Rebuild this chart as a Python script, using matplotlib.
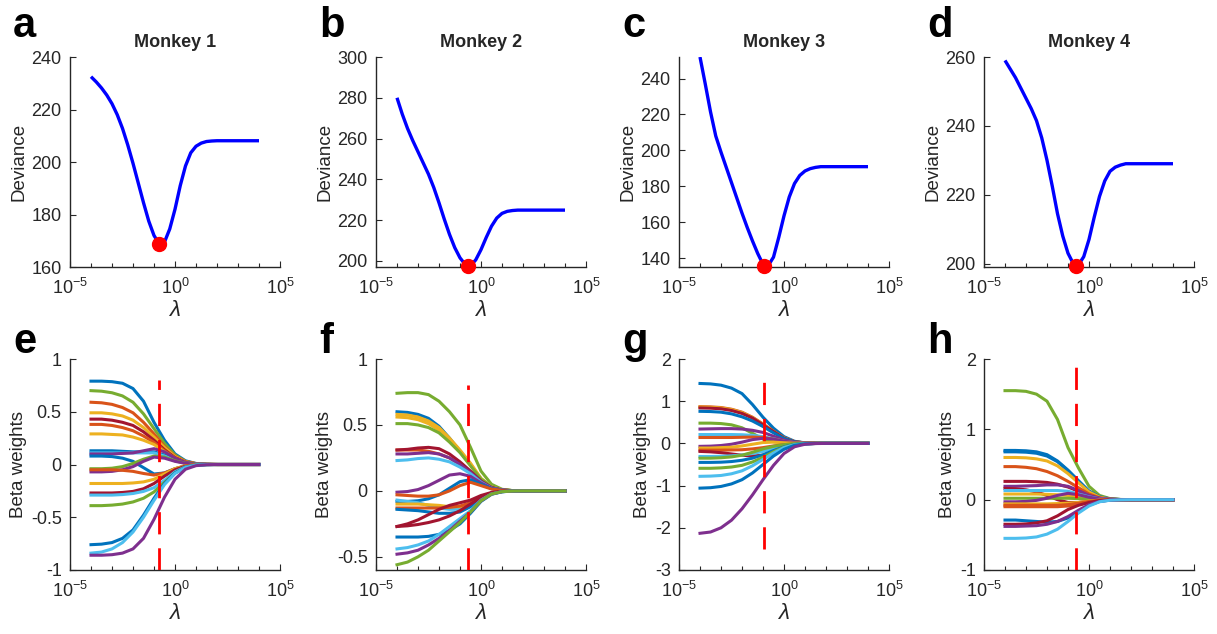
import matplotlib
matplotlib.use("Agg")
import matplotlib.pyplot as plt
import numpy as np

plt.rcParams['font.family'] = ['Liberation Sans', 'DejaVu Sans']
plt.rcParams['mathtext.fontset'] = 'custom'
plt.rcParams['mathtext.rm'] = 'Liberation Sans'
plt.rcParams['mathtext.it'] = 'Liberation Sans:italic'
plt.rcParams['mathtext.default'] = 'regular'
plt.rcParams['axes.unicode_minus'] = False

# ---- data ----
titles = ['Monkey 1', 'Monkey 2', 'Monkey 3', 'Monkey 4']
letters_top = ['a', 'b', 'c', 'd']
letters_bot = ['e', 'f', 'g', 'h']

# log10(lambda) grid of the deviance curves
log_lam_dev = [-4.0, -3.75, -3.5, -3.25, -3.0, -2.75, -2.5, -2.25, -2.0, -1.75, -1.5,
               -1.25, -1.0, -0.75, -0.5, -0.25, 0.0, 0.25, 0.5, 0.75, 1.0, 1.25,
               1.5, 1.75, 2.0, 2.25, 2.5, 2.75, 3.0, 3.25, 3.5, 3.75, 4.0]

dev_m1 = [232.5, 230.5, 228.2, 225.5, 222.2, 218.0, 212.8, 206.5, 199.5, 192.0, 184.5,
          177.5, 172.0, 168.8, 169.5, 174.5, 182.0, 191.0, 198.5, 203.5, 206.0, 207.2,
          207.8, 208.0, 208.1, 208.1, 208.1, 208.1, 208.1, 208.1, 208.1, 208.1, 208.1]
dev_m2 = [280.0, 272.0, 265.0, 259.0, 253.5, 248.0, 242.5, 236.0, 228.5, 220.5, 213.0,
          206.5, 201.5, 198.2, 197.6, 200.5, 205.5, 211.5, 217.0, 221.0, 223.3, 224.3,
          224.7, 224.9, 224.9, 224.9, 224.9, 224.9, 224.9, 224.9, 224.9, 224.9, 224.9]
dev_m3 = [252.0, 237.0, 221.5, 208.0, 199.0, 190.5, 182.0, 173.5, 165.0, 157.0, 149.5,
          142.5, 136.5, 135.8, 140.5, 151.5, 163.5, 174.0, 181.5, 186.0, 188.5, 189.8,
          190.5, 190.9, 190.9, 190.9, 190.9, 190.9, 190.9, 190.9, 190.9, 190.9, 190.9]
dev_m4 = [259.0, 256.5, 254.0, 251.0, 248.0, 245.0, 241.5, 236.5, 230.0, 222.5, 214.5,
          208.0, 203.0, 200.0, 199.6, 202.0, 207.0, 213.5, 219.5, 224.0, 226.8, 228.0,
          228.6, 229.0, 229.0, 229.0, 229.0, 229.0, 229.0, 229.0, 229.0, 229.0, 229.0]
deviances = [dev_m1, dev_m2, dev_m3, dev_m4]

# optimal lambda (log10) and minimum deviance
log_lam_opt = [-0.77, -0.63, -0.93, -0.62]
dev_min = [168.7, 197.3, 135.3, 199.2]

dev_ylim = [(160, 240), (197, 300), (135, 252), (199, 260)]
dev_yticks = [[160, 180, 200, 220, 240], [200, 220, 240, 260, 280, 300],
              [140, 160, 180, 200, 220, 240], [200, 220, 240, 260]]

# log10(lambda) grid of the beta paths
log_lam_beta = [-4, -3.5, -3, -2.5, -2, -1.5, -1, -0.5, 0, 0.5, 1, 1.5, 2, 4]

beta_m1 = [
    [0.79, 0.79, 0.785, 0.77, 0.72, 0.60, 0.40, 0.23, 0.10, 0.035, 0.01, 0.002, 0, 0],
    [0.70, 0.695, 0.68, 0.65, 0.59, 0.48, 0.34, 0.20, 0.09, 0.03, 0.008, 0.002, 0, 0],
    [0.59, 0.585, 0.57, 0.54, 0.49, 0.40, 0.29, 0.17, 0.08, 0.028, 0.008, 0.002, 0, 0],
    [0.49, 0.49, 0.48, 0.46, 0.42, 0.35, 0.26, 0.16, 0.075, 0.025, 0.007, 0.001, 0, 0],
    [0.43, 0.43, 0.42, 0.40, 0.37, 0.31, 0.23, 0.14, 0.065, 0.022, 0.006, 0.001, 0, 0],
    [0.38, 0.38, 0.37, 0.35, 0.32, 0.27, 0.21, 0.13, 0.06, 0.02, 0.005, 0.001, 0, 0],
    [0.29, 0.29, 0.285, 0.28, 0.26, 0.23, 0.19, 0.12, 0.055, 0.018, 0.005, 0.001, 0, 0],
    [0.13, 0.13, 0.13, 0.125, 0.12, 0.12, 0.12, 0.09, 0.045, 0.015, 0.004, 0.001, 0, 0],
    [0.11, 0.11, 0.11, 0.11, 0.11, 0.11, 0.11, 0.08, 0.04, 0.013, 0.003, 0.001, 0, 0],
    [0.10, 0.10, 0.10, 0.105, 0.11, 0.13, 0.15, 0.12, 0.06, 0.02, 0.005, 0.001, 0, 0],
    [0.08, 0.08, 0.075, 0.06, 0.03, -0.03, -0.09, -0.08, -0.04, -0.013, -0.003, 0, 0, 0],
    [-0.04, -0.04, -0.035, -0.02, 0.01, 0.05, 0.08, 0.07, 0.035, 0.012, 0.003, 0, 0, 0],
    [-0.07, -0.07, -0.065, -0.05, -0.02, 0.03, 0.07, 0.06, 0.03, 0.01, 0.002, 0, 0, 0],
    [-0.05, -0.05, -0.05, -0.055, -0.065, -0.085, -0.10, -0.08, -0.04, -0.013, -0.003, 0, 0, 0],
    [-0.18, -0.18, -0.18, -0.18, -0.175, -0.165, -0.14, -0.09, -0.04, -0.013, -0.003, 0, 0, 0],
    [-0.27, -0.27, -0.27, -0.265, -0.255, -0.23, -0.18, -0.11, -0.05, -0.016, -0.004, -0.001, 0, 0],
    [-0.29, -0.29, -0.29, -0.285, -0.275, -0.255, -0.22, -0.15, -0.07, -0.022, -0.005, -0.001, 0, 0],
    [-0.39, -0.39, -0.385, -0.375, -0.355, -0.32, -0.26, -0.17, -0.08, -0.026, -0.006, -0.001, 0, 0],
    [-0.76, -0.755, -0.74, -0.70, -0.62, -0.48, -0.32, -0.18, -0.08, -0.026, -0.007, -0.001, 0, 0],
    [-0.84, -0.83, -0.80, -0.74, -0.64, -0.50, -0.34, -0.19, -0.085, -0.028, -0.007, -0.001, 0, 0],
    [-0.86, -0.86, -0.855, -0.84, -0.80, -0.70, -0.52, -0.31, -0.14, -0.045, -0.011, -0.002, 0, 0],
]
colors_m1 = 'BGOYROYBLPBGPOYRLGBLP'

beta_m2 = [
    [0.74, 0.745, 0.745, 0.73, 0.68, 0.60, 0.50, 0.33, 0.15, 0.05, 0.012, 0.002, 0, 0],
    [0.60, 0.595, 0.58, 0.55, 0.49, 0.40, 0.30, 0.20, 0.09, 0.03, 0.008, 0.002, 0, 0],
    [0.58, 0.575, 0.56, 0.53, 0.48, 0.40, 0.31, 0.21, 0.095, 0.03, 0.008, 0.002, 0, 0],
    [0.56, 0.555, 0.54, 0.51, 0.46, 0.39, 0.30, 0.20, 0.09, 0.03, 0.008, 0.002, 0, 0],
    [0.51, 0.51, 0.50, 0.48, 0.44, 0.37, 0.29, 0.19, 0.09, 0.03, 0.008, 0.002, 0, 0],
    [0.31, 0.31, 0.31, 0.30, 0.28, 0.25, 0.20, 0.14, 0.07, 0.023, 0.006, 0.001, 0, 0],
    [0.31, 0.315, 0.325, 0.33, 0.32, 0.28, 0.22, 0.15, 0.075, 0.025, 0.006, 0.001, 0, 0],
    [0.28, 0.28, 0.285, 0.29, 0.28, 0.25, 0.20, 0.14, 0.07, 0.023, 0.006, 0.001, 0, 0],
    [0.23, 0.235, 0.245, 0.25, 0.24, 0.22, 0.18, 0.13, 0.065, 0.02, 0.005, 0.001, 0, 0],
    [-0.01, -0.005, 0.01, 0.04, 0.08, 0.12, 0.13, 0.11, 0.06, 0.02, 0.005, 0.001, 0, 0],
    [-0.08, -0.08, -0.075, -0.06, -0.03, 0.02, 0.07, 0.085, 0.05, 0.017, 0.004, 0.001, 0, 0],
    [-0.03, -0.035, -0.04, -0.04, -0.03, 0.0, 0.04, 0.065, 0.04, 0.014, 0.004, 0.001, 0, 0],
    [-0.07, -0.08, -0.09, -0.11, -0.13, -0.14, -0.14, -0.11, -0.055, -0.018, -0.005, -0.001, 0, 0],
    [-0.10, -0.10, -0.10, -0.105, -0.11, -0.12, -0.12, -0.10, -0.05, -0.017, -0.004, -0.001, 0, 0],
    [-0.13, -0.13, -0.13, -0.13, -0.13, -0.125, -0.115, -0.09, -0.045, -0.015, -0.004, -0.001, 0, 0],
    [-0.14, -0.145, -0.15, -0.16, -0.17, -0.17, -0.16, -0.12, -0.06, -0.02, -0.005, -0.001, 0, 0],
    [-0.27, -0.25, -0.22, -0.18, -0.14, -0.11, -0.09, -0.07, -0.035, -0.012, -0.003, 0, 0, 0],
    [-0.27, -0.265, -0.255, -0.24, -0.22, -0.19, -0.15, -0.10, -0.05, -0.016, -0.004, -0.001, 0, 0],
    [-0.35, -0.35, -0.35, -0.345, -0.33, -0.30, -0.25, -0.17, -0.08, -0.026, -0.007, -0.001, 0, 0],
    [-0.44, -0.43, -0.41, -0.38, -0.33, -0.27, -0.21, -0.15, -0.07, -0.023, -0.006, -0.001, 0, 0],
    [-0.48, -0.47, -0.45, -0.41, -0.36, -0.30, -0.23, -0.16, -0.075, -0.024, -0.006, -0.001, 0, 0],
    [-0.56, -0.54, -0.50, -0.45, -0.38, -0.31, -0.24, -0.16, -0.075, -0.024, -0.006, -0.001, 0, 0],
]
colors_m2 = 'GBYYGORPLPBOLYOBRRBLPG'

beta_m3 = [
    [1.42, 1.41, 1.38, 1.31, 1.18, 0.92, 0.62, 0.36, 0.16, 0.05, 0.013, 0.003, 0, 0],
    [0.87, 0.865, 0.85, 0.81, 0.74, 0.62, 0.46, 0.29, 0.13, 0.04, 0.01, 0.002, 0, 0],
    [0.86, 0.855, 0.84, 0.80, 0.73, 0.61, 0.45, 0.28, 0.13, 0.04, 0.01, 0.002, 0, 0],
    [0.84, 0.835, 0.82, 0.78, 0.71, 0.60, 0.44, 0.28, 0.125, 0.04, 0.01, 0.002, 0, 0],
    [0.76, 0.755, 0.74, 0.70, 0.63, 0.53, 0.40, 0.25, 0.115, 0.037, 0.009, 0.002, 0, 0],
    [0.48, 0.48, 0.47, 0.44, 0.37, 0.24, 0.10, 0.04, 0.015, 0.005, 0.001, 0, 0, 0],
    [0.34, 0.345, 0.35, 0.35, 0.34, 0.31, 0.26, 0.17, 0.08, 0.026, 0.007, 0.001, 0, 0],
    [0.21, 0.21, 0.21, 0.21, 0.205, 0.19, 0.16, 0.11, 0.05, 0.016, 0.004, 0.001, 0, 0],
    [0.14, 0.14, 0.14, 0.14, 0.145, 0.15, 0.14, 0.10, 0.05, 0.016, 0.004, 0.001, 0, 0],
    [-0.07, -0.065, -0.05, -0.02, 0.03, 0.09, 0.12, 0.10, 0.05, 0.016, 0.004, 0.001, 0, 0],
    [-0.11, -0.11, -0.10, -0.09, -0.06, -0.02, 0.02, 0.03, 0.015, 0.005, 0.001, 0, 0, 0],
    [-0.16, -0.16, -0.16, -0.155, -0.15, -0.13, -0.10, -0.06, -0.03, -0.01, -0.002, 0, 0, 0],
    [-0.19, -0.20, -0.22, -0.25, -0.28, -0.30, -0.28, -0.19, -0.09, -0.03, -0.007, -0.001, 0, 0],
    [-0.31, -0.31, -0.305, -0.295, -0.275, -0.24, -0.19, -0.12, -0.055, -0.018, -0.005, -0.001, 0, 0],
    [-0.35, -0.35, -0.34, -0.32, -0.28, -0.21, -0.13, -0.07, -0.03, -0.01, -0.002, 0, 0, 0],
    [-0.45, -0.45, -0.445, -0.43, -0.40, -0.35, -0.27, -0.17, -0.08, -0.026, -0.007, -0.001, 0, 0],
    [-0.59, -0.59, -0.58, -0.56, -0.52, -0.44, -0.33, -0.20, -0.09, -0.03, -0.008, -0.002, 0, 0],
    [-0.78, -0.775, -0.76, -0.72, -0.65, -0.53, -0.38, -0.23, -0.10, -0.033, -0.008, -0.002, 0, 0],
    [-1.06, -1.05, -1.02, -0.96, -0.86, -0.70, -0.50, -0.30, -0.14, -0.045, -0.011, -0.002, 0, 0],
    [-2.13, -2.10, -2.00, -1.82, -1.55, -1.22, -0.86, -0.52, -0.24, -0.08, -0.02, -0.004, 0, 0],
]
colors_m3 = 'BOYRBGPLOPYORLGBGLBP'

beta_m4 = [
    [1.55, 1.55, 1.54, 1.50, 1.40, 1.14, 0.74, 0.45, 0.19, 0.06, 0.015, 0.003, 0, 0],
    [0.70, 0.70, 0.695, 0.68, 0.64, 0.55, 0.42, 0.27, 0.12, 0.04, 0.01, 0.002, 0, 0],
    [0.68, 0.68, 0.675, 0.66, 0.62, 0.54, 0.41, 0.26, 0.12, 0.04, 0.01, 0.002, 0, 0],
    [0.60, 0.60, 0.595, 0.58, 0.55, 0.48, 0.37, 0.24, 0.11, 0.036, 0.009, 0.002, 0, 0],
    [0.47, 0.47, 0.46, 0.44, 0.40, 0.34, 0.26, 0.17, 0.08, 0.026, 0.007, 0.001, 0, 0],
    [0.26, 0.26, 0.26, 0.255, 0.245, 0.22, 0.18, 0.12, 0.055, 0.018, 0.005, 0.001, 0, 0],
    [0.19, 0.19, 0.195, 0.20, 0.21, 0.21, 0.19, 0.13, 0.06, 0.02, 0.005, 0.001, 0, 0],
    [0.16, 0.155, 0.14, 0.11, 0.06, 0.0, -0.04, -0.04, -0.02, -0.007, -0.002, 0, 0, 0],
    [0.13, 0.13, 0.13, 0.13, 0.13, 0.13, 0.12, 0.08, 0.04, 0.013, 0.003, 0.001, 0, 0],
    [0.08, 0.08, 0.08, 0.08, 0.075, 0.07, 0.06, 0.04, 0.02, 0.006, 0.002, 0, 0, 0],
    [0.02, 0.02, 0.02, 0.02, 0.02, 0.02, 0.02, 0.015, 0.007, 0.002, 0, 0, 0, 0],
    [-0.03, -0.03, -0.025, -0.01, 0.02, 0.06, 0.09, 0.07, 0.035, 0.012, 0.003, 0, 0, 0],
    [-0.06, -0.06, -0.06, -0.06, -0.06, -0.055, -0.05, -0.04, -0.02, -0.006, -0.002, 0, 0, 0],
    [-0.10, -0.10, -0.10, -0.10, -0.10, -0.10, -0.09, -0.07, -0.035, -0.012, -0.003, 0, 0, 0],
    [-0.08, -0.08, -0.08, -0.08, -0.08, -0.08, -0.07, -0.05, -0.025, -0.008, -0.002, 0, 0, 0],
    [-0.29, -0.29, -0.30, -0.31, -0.32, -0.31, -0.26, -0.17, -0.08, -0.026, -0.007, -0.001, 0, 0],
    [-0.35, -0.35, -0.345, -0.33, -0.30, -0.23, -0.14, -0.08, -0.04, -0.013, -0.003, 0, 0, 0],
    [-0.38, -0.38, -0.375, -0.37, -0.35, -0.31, -0.24, -0.15, -0.07, -0.023, -0.006, -0.001, 0, 0],
    [-0.55, -0.55, -0.545, -0.53, -0.49, -0.42, -0.31, -0.19, -0.09, -0.03, -0.008, -0.002, 0, 0],
]
colors_m4 = 'GBBYORPRLYGPYOOBRPL'

betas = [beta_m1, beta_m2, beta_m3, beta_m4]
beta_colors = [colors_m1, colors_m2, colors_m3, colors_m4]

beta_ylim = [(-1, 1), (-0.6, 1), (-3, 2), (-1, 2)]
beta_yticks = [[-1, -0.5, 0, 0.5, 1], [-0.5, 0, 0.5, 1], [-3, -2, -1, 0, 1, 2], [-1, 0, 1, 2]]
beta_yticklabels = [['-1', '-0.5', '0', '0.5', '1'], ['-0.5', '0', '0.5', '1'],
                    ['-3', '-2', '-1', '0', '1', '2'], ['-1', '0', '1', '2']]
# extent of the dashed line at the optimal lambda
vline_span = [(-1, 0.8), (-0.6, 0.8), (-2.5, 1.5), (-1, 1.9)]

# MATLAB default line colours
mcol = {'B': '#0072BD', 'O': '#D95319', 'Y': '#EDB120', 'P': '#7E2F8E',
        'G': '#77AC30', 'L': '#4DBEEE', 'R': '#A2142F'}

# ---- figure ----
W, H = 1217, 634
fig = plt.figure(figsize=(W / 100, H / 100), dpi=100)
lefts = [70, 376, 679, 984]
axc = '#262626'


def style_axes(ax):
    ax.set_xscale('log')
    ax.set_xlim(1e-5, 1e5)
    ax.set_xticks([1e-5, 1e0, 1e5])
    ax.set_xticks([1e-4, 1e-3, 1e-2, 1e-1, 1e1, 1e2, 1e3, 1e4], minor=True)
    ax.xaxis.set_minor_formatter(matplotlib.ticker.NullFormatter())
    for s in ['top', 'right']:
        ax.spines[s].set_visible(False)
    for s in ['left', 'bottom']:
        ax.spines[s].set_color(axc)
        ax.spines[s].set_linewidth(1.0)
    ax.tick_params(which='both', direction='in', colors=axc, labelsize=13, width=0.8)
    ax.tick_params(which='major', length=4)
    ax.tick_params(which='minor', length=3)
    ax.tick_params(axis='x', which='major', pad=7.5)
    ax.tick_params(axis='y', which='major', pad=6)
    ax.set_xlabel('λ', fontsize=16, style='italic', color=axc, labelpad=2)


for i in range(4):
    # deviance
    ax = fig.add_axes([lefts[i] / W, (H - 267) / H, 210 / W, 210 / H])
    lam = [10 ** v for v in log_lam_dev]
    ax.plot(lam, deviances[i], color='#0000FF', lw=2.4, solid_capstyle='butt')
    ax.plot([10 ** log_lam_opt[i]], [dev_min[i]], 'o', color='#FF0000', ms=10,
            mec='#FF0000', clip_on=False, zorder=5)
    style_axes(ax)
    ax.set_ylim(*dev_ylim[i])
    ax.set_yticks(dev_yticks[i])
    ax.set_ylabel('Deviance', fontsize=13.5, color=axc, labelpad=3)
    ax.set_title(titles[i], fontsize=13, fontweight='bold', color=axc, pad=7)
    fig.text((lefts[i] - 57) / W, 1 - 37 / H, letters_top[i], fontsize=30,
             fontweight='bold', va='baseline', ha='left')

    # beta weights
    ax = fig.add_axes([lefts[i] / W, (H - 570) / H, 210 / W, 211 / H])
    lamb = [10 ** v for v in log_lam_beta]
    for vals, c in zip(betas[i], beta_colors[i]):
        ax.plot(lamb, vals, color=mcol[c], lw=2.2)
    x0 = 10 ** log_lam_opt[i]
    ax.plot([x0, x0], vline_span[i], color='#FF0000', lw=2.0,
            linestyle=(0, (8, 5)), zorder=5)
    style_axes(ax)
    ax.set_ylim(*beta_ylim[i])
    ax.set_yticks(beta_yticks[i])
    ax.set_yticklabels(beta_yticklabels[i])
    ax.set_ylabel('Beta weights', fontsize=13.5, color=axc, labelpad=3)
    fig.text((lefts[i] - 57) / W, 1 - 353 / H, letters_bot[i], fontsize=30,
             fontweight='bold', va='baseline', ha='left')

fig.savefig('out.png', dpi=100)
